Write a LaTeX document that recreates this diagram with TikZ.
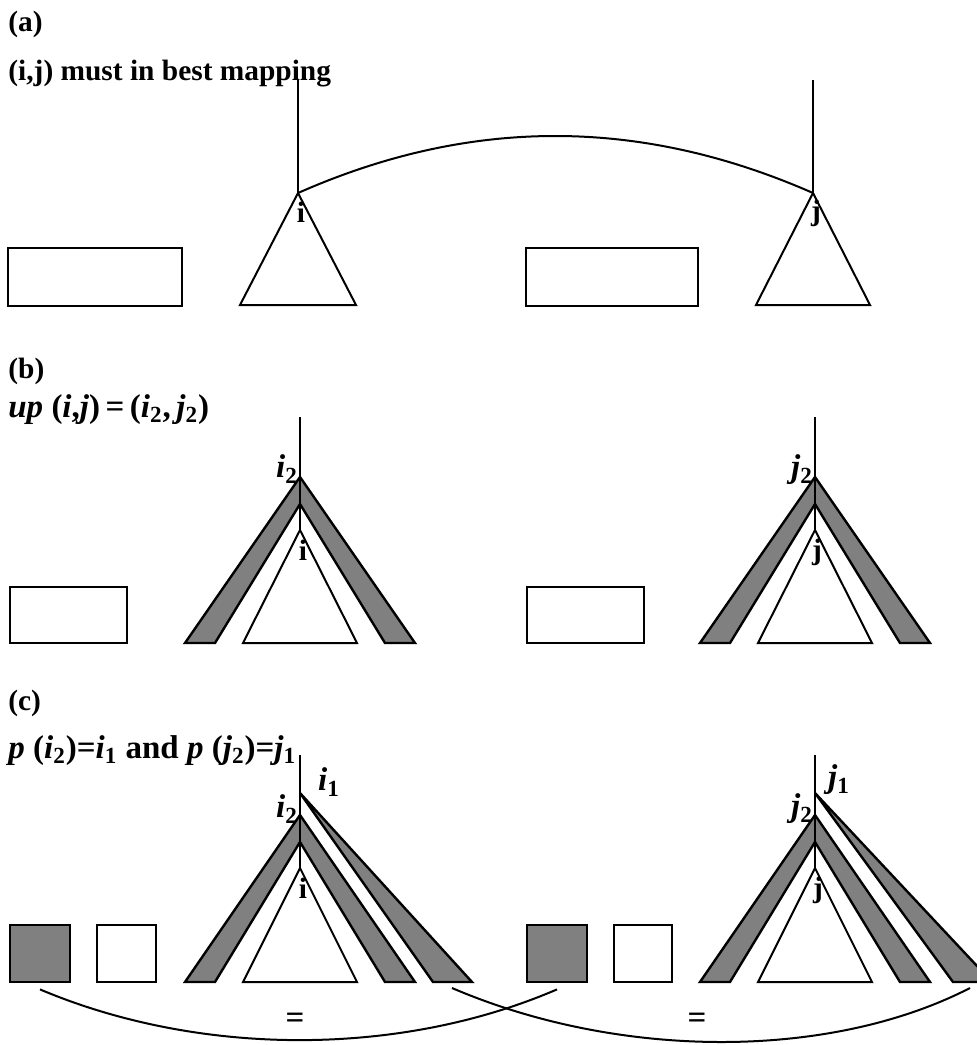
\documentclass[tikz,border=0pt]{standalone}
\usepackage{fontspec}
\setmainfont{Liberation Serif}
\usetikzlibrary{positioning}
\newcommand{\isub}[1]{\textit{i}\textsubscript{#1}}
\newcommand{\jsub}[1]{\textit{j}\textsubscript{#1}}

\begin{document}
\begin{tikzpicture}[
    x=0.5pt, y=-0.5pt,
    lbl/.style={font=\fontsize{14.7}{17}\selectfont\bfseries, inner sep=0pt},
    mlbl/.style={font=\fontsize{16.5}{19}\selectfont\bfseries, inner sep=0pt},
    head/.style={lbl, anchor=base west},
    mhead/.style={mlbl, anchor=base west},
    plainbox/.style={rectangle, draw, line width=1pt, inner sep=0pt},
    hatchbox/.style={plainbox, fill=black!50, line width=1.4pt},
    band/.style={draw, fill=black!50, line width=1.2pt},
    subtree/.style={draw, fill=white, line width=1pt},
    stem/.style={line width=0.8pt},
    conn/.style={line width=1pt}
]
\useasboundingbox (0,0) rectangle (977,1045);
\clip (0,0) rectangle (977,1045);

% (a)
\node[head] (ta) at (8,31) {(a)};
\node[head] (sa) at (8,80) {(i,j) must in best mapping};
\coordinate (atopi) at (298,80);
\coordinate (atopj) at (813,80);
\coordinate (ai) at (298,193);
\coordinate (aj) at (813,193);
\node[plainbox, minimum width=87pt, minimum height=29pt] (ra1) at (95,277) {};
\node[plainbox, minimum width=86pt, minimum height=29pt] (ra2) at (612,277) {};
\draw[subtree] (ai) -- (240,305) -- (356,305) -- cycle;
\draw[subtree] (aj) -- (756,305) -- (870,305) -- cycle;
\draw[stem] (atopi) -- (ai);
\draw[stem] (atopj) -- (aj);
\draw[conn] (ai) .. controls (470,117) and (640,117) .. (aj);
\node[lbl] (lai) at (301,212) {i};
\node[lbl] (laj) at (816,213) {j};

% (b)
\node[head] (tb) at (8,378) {(b)};
\node[mhead] (sb) at (8,417) {\textit{up} (\textit{i},\textit{j})\,=\,(\isub{2},\,\jsub{2})};
\coordinate (btopi) at (300,417);
\coordinate (btopj) at (815,417);
\coordinate (bi2) at (300,477);
\coordinate (bj2) at (815,477);
\coordinate (bi) at (300,530);
\coordinate (bj) at (815,530);
\node[plainbox, minimum width=58.5pt, minimum height=28pt] (rb1) at (68.5,615) {};
\node[plainbox, minimum width=58.5pt, minimum height=28pt] (rb2) at (585.5,615) {};
\draw[band] (bi2) -- (185,643) -- (215,643) -- (300,504) -- (385,643) -- (415,643) -- cycle;
\draw[band] (bj2) -- (700,643) -- (730,643) -- (815,504) -- (900,643) -- (930,643) -- cycle;
\draw[subtree] (bi) -- (243,643) -- (357,643) -- cycle;
\draw[subtree] (bj) -- (758,643) -- (872,643) -- cycle;
\draw[stem] (btopi) -- (bi);
\draw[stem] (btopj) -- (bj);
\node[mlbl] (lbi2) at (287,469) {\isub{2}};
\node[mlbl] (lbj2) at (802,470) {\jsub{2}};
\node[lbl] (lbi) at (303,550) {i};
\node[lbl] (lbj) at (817,552) {j};

% (c)
\node[head] (tc) at (8,710) {(c)};
\node[mhead] (sc) at (8,758) {\textit{p} (\isub{2})=\isub{1} and \textit{p} (\jsub{2})=\jsub{1}};
\coordinate (ctopi) at (300,755);
\coordinate (ctopj) at (815,755);
\coordinate (ci1) at (300,793);
\coordinate (cj1) at (815,793);
\coordinate (ci2) at (300,815);
\coordinate (cj2) at (815,815);
\coordinate (ci) at (300,868);
\coordinate (cj) at (815,868);
\node[hatchbox, minimum width=30pt, minimum height=28.5pt] (hl) at (40,953.5) {};
\node[plainbox, minimum width=29.5pt, minimum height=28.5pt] (wl) at (126.5,953.5) {};
\node[hatchbox, minimum width=30pt, minimum height=28.5pt] (hr) at (557,953.5) {};
\node[plainbox, minimum width=29pt, minimum height=28.5pt] (wr) at (643,953.5) {};
\draw[band] (ci1) -- (433,982) -- (472,982) -- cycle;
\draw[band] (cj1) -- (953,982) -- (992,982) -- cycle;
\draw[band] (ci2) -- (185,982) -- (215,982) -- (300,842) -- (385,982) -- (415,982) -- cycle;
\draw[band] (cj2) -- (700,982) -- (730,982) -- (815,842) -- (900,982) -- (930,982) -- cycle;
\draw[subtree] (ci) -- (243,982) -- (357,982) -- cycle;
\draw[subtree] (cj) -- (758,982) -- (872,982) -- cycle;
\draw[stem] (ctopi) -- (ci);
\draw[stem] (ctopj) -- (cj);
\node[mlbl] (lci1) at (329,782) {\isub{1}};
\node[mlbl] (lcj1) at (839,780) {\jsub{1}};
\node[mlbl] (lci2) at (287,809) {\isub{2}};
\node[mlbl] (lcj2) at (802,809) {\jsub{2}};
\node[lbl] (lci) at (303,888) {i};
\node[lbl] (lcj) at (818,890) {j};

% equal parts
\coordinate (xi) at (452,988);
\coordinate (xj) at (970,988);
\draw[conn] ([yshift=-3pt]hl.south) .. controls (200,1057) and (400,1057) .. ([yshift=-3pt]hr.south);
\draw[conn] (xi) .. controls (620,1060) and (830,1060) .. (xj);
\node[mlbl] (eq1) at (295,1021) {=};
\node[mlbl] (eq2) at (697,1021) {=};
\end{tikzpicture}
\end{document}
